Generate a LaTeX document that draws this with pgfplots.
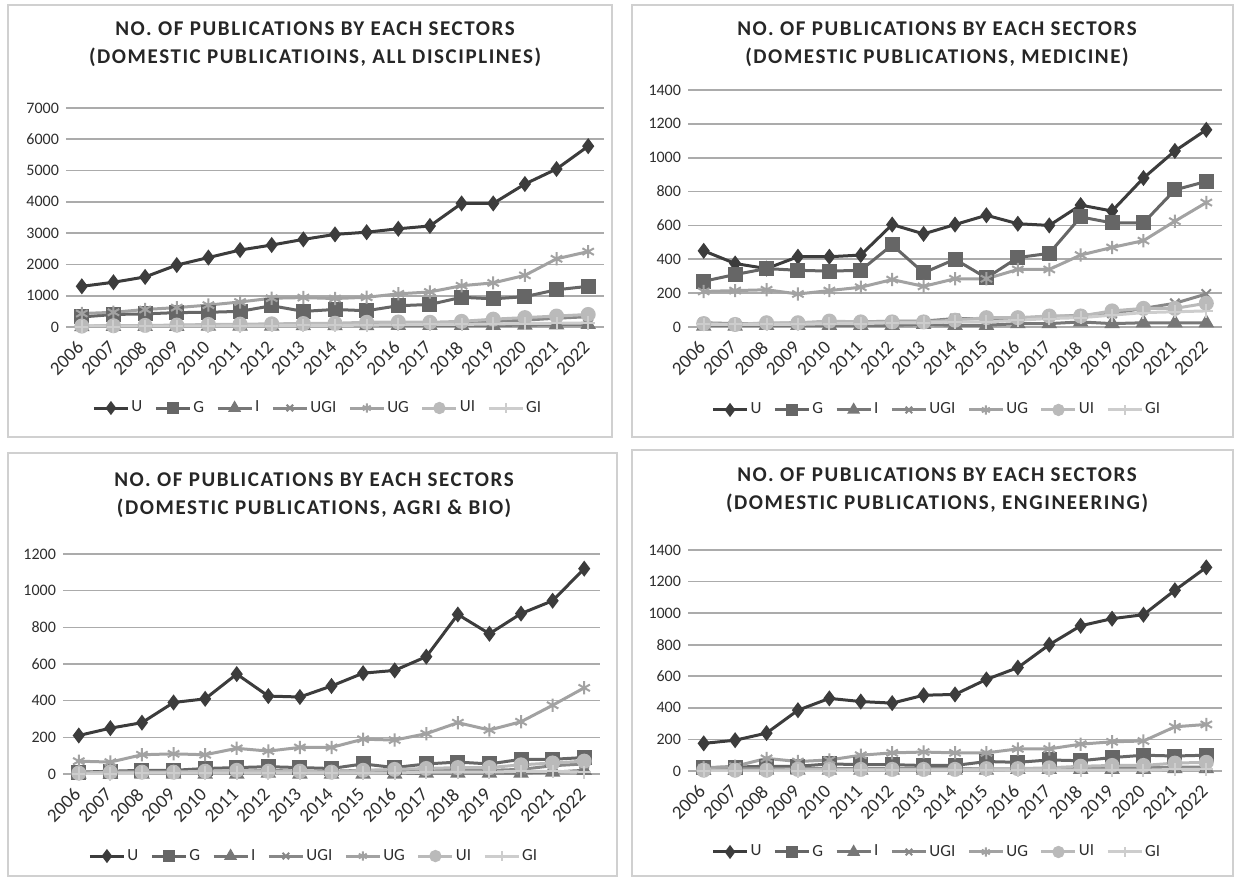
\documentclass[border=0pt]{standalone}
\usepackage{fontspec}
\setmainfont{Carlito}
\newfontfamily\titlefont[LetterSpace=7.5]{Carlito}
\usepackage{pgfplots}
\usepackage{pgfplotstable}
\pgfplotsset{compat=1.18}

\definecolor{cU}{HTML}{3C3C3C}
\definecolor{cG}{HTML}{666666}
\definecolor{cI}{HTML}{777777}
\definecolor{cUGI}{HTML}{888888}
\definecolor{cUG}{HTML}{A2A2A2}
\definecolor{cUI}{HTML}{BABABA}
\definecolor{cGI}{HTML}{CDCDCD}
\definecolor{gridc}{HTML}{ABABAB}
\definecolor{framec}{HTML}{D0D0D0}
\definecolor{txt}{HTML}{2E2E2E}

% all disciplines
\pgfplotstableread{
year U G I UGI UG UI GI
2006 1300 320 10 20 430 30 10
2007 1430 400 20 30 470 40 15
2008 1600 420 20 40 560 50 20
2009 1980 460 20 50 620 60 25
2010 2220 470 30 60 700 80 30
2011 2460 500 30 70 800 90 35
2012 2620 680 30 80 920 100 40
2013 2800 500 40 90 940 110 50
2014 2960 560 40 100 910 120 50
2015 3030 520 40 110 950 150 60
2016 3140 680 50 120 1060 160 70
2017 3230 720 50 130 1120 150 80
2018 3950 950 50 140 1320 180 80
2019 3950 900 50 180 1410 250 100
2020 4570 970 60 220 1650 300 110
2021 5050 1190 70 280 2180 350 120
2022 5780 1300 80 330 2410 400 130
}\tabAll

% medicine
\pgfplotstableread{
year U G I UGI UG UI GI
2006 450 270 5 25 210 20 15
2007 375 310 5 20 215 15 15
2008 345 345 10 20 220 25 15
2009 415 335 10 25 195 25 15
2010 415 330 10 25 215 35 20
2011 425 335 10 30 235 30 20
2012 605 485 10 35 280 30 25
2013 550 320 15 35 240 30 25
2014 605 400 10 50 285 40 30
2015 660 290 10 50 285 55 30
2016 610 410 20 50 340 55 40
2017 600 435 20 60 340 65 50
2018 720 650 30 70 425 65 55
2019 685 615 20 80 470 95 70
2020 880 615 25 110 510 110 85
2021 1040 810 25 140 625 110 90
2022 1165 860 25 195 735 140 95
}\tabMed

% agri and bio
\pgfplotstableread{
year U G I UGI UG UI GI
2006 210 10 0 5 70 5 0
2007 250 15 0 10 65 10 0
2008 280 20 0 10 105 10 5
2009 390 20 0 10 110 10 5
2010 410 30 0 15 105 15 5
2011 545 35 0 15 140 20 5
2012 425 40 5 20 125 15 5
2013 420 35 0 15 145 15 5
2014 480 30 0 15 145 10 5
2015 550 55 0 20 190 20 5
2016 565 35 0 20 185 25 5
2017 640 55 5 20 220 30 10
2018 870 65 5 20 280 35 10
2019 765 55 5 20 240 35 10
2020 875 80 5 25 285 50 15
2021 945 80 10 45 375 60 15
2022 1120 90 20 55 470 70 10
}\tabAgri

% engineering
\pgfplotstableread{
year U G I UGI UG UI GI
2006 175 20 5 15 20 5 0
2007 195 25 5 15 30 5 0
2008 240 30 5 15 80 5 0
2009 385 30 5 15 60 10 0
2010 460 45 5 15 70 10 0
2011 440 40 5 15 100 10 5
2012 430 40 5 15 115 10 5
2013 480 35 5 15 120 10 5
2014 485 35 5 15 115 10 5
2015 580 60 5 15 115 15 5
2016 655 55 10 15 140 15 5
2017 800 70 10 15 140 20 5
2018 920 65 10 20 170 30 5
2019 965 85 10 20 185 35 5
2020 990 100 10 20 190 35 5
2021 1145 95 15 25 280 50 10
2022 1290 100 15 25 295 55 10
}\tabEng

\pgfplotsset{
  panel/.style={
    scale only axis,
    anchor=south west,
    xmin=2005.5, xmax=2022.5,
    ymin=0,
    xtick={2006,...,2022},
    axis line style={draw=none},
    major tick length=0pt,
    ymajorgrids,
    grid style={gridc, line width=0.8pt},
    y tick label style={font=\fontsize{8}{9}\selectfont, text=txt},
    x tick label style={font=\fontsize{9.5}{10}\selectfont, text=txt,
      yshift=-8pt, rotate=45, anchor=east, inner sep=1pt},
    scaled y ticks=false,
    /pgf/number format/1000 sep={},
    /pgf/number format/assume math mode=true,
    legend columns=7,
    legend image code/.code={%
      \draw[mark repeat=2, mark phase=2, mark size=2.3pt] plot coordinates {(0pt,0pt) (8.5pt,0pt) (17pt,0pt)};},
    legend style={draw=none, fill=none, font=\fontsize{8.5}{9}\selectfont, text=txt,
      nodes={inner xsep=1pt},
      /tikz/every even column/.append style={column sep=5pt}},
    every axis plot/.append style={line width=1.5pt},
  },
  sU/.style={cU, mark=diamond*, mark size=2.8pt, mark options={solid, fill=cU}},
  sG/.style={cG, mark=square*, mark size=3pt, mark options={solid, fill=cG}},
  sI/.style={cI, mark=triangle*, mark size=3pt, mark options={solid, fill=cI}},
  sUGI/.style={cUGI, mark=x, mark size=3.3pt, mark options={solid, line width=1pt}},
  sUG/.style={cUG, mark=asterisk, mark size=3.3pt, mark options={solid, line width=1pt}},
  sUI/.style={cUI, mark=*, mark size=3pt, mark options={solid, fill=cUI}},
  sGI/.style={cGI, mark=+, mark size=3.3pt, mark options={solid, line width=1pt}},
}

\newcommand{\series}[1]{%
  \addplot[sU] table[x=year, y=U] {#1};
  \addplot[sG] table[x=year, y=G] {#1};
  \addplot[sI] table[x=year, y=I] {#1};
  \addplot[sUGI] table[x=year, y=UGI] {#1};
  \addplot[sUG] table[x=year, y=UG] {#1};
  \addplot[sUI] table[x=year, y=UI] {#1};
  \addplot[sGI] table[x=year, y=GI] {#1};
  \legend{U,G,I,UGI,UG,UI,GI}
}

\begin{document}
\begin{tikzpicture}[x=1pt, y=1pt]
\useasboundingbox (0,0) rectangle (617.5,439);

% panel frames
\draw[framec, line width=0.8pt] (4,220.5) rectangle (306,436.5);
\draw[framec, line width=0.8pt] (316,220.5) rectangle (616.5,436.5);
\draw[framec, line width=0.8pt] (4,1) rectangle (308.5,212.5);
\draw[framec, line width=0.8pt] (316,1) rectangle (616.5,214);

\tikzset{ttl/.style={align=center, text=black!85, font=\titlefont\bfseries\fontsize{10.5}{14}\selectfont}}
\node[ttl] at (157.5,417) {NO. OF PUBLICATIONS BY EACH SECTORS\\(DOMESTIC PUBLICATIOINS, ALL DISCIPLINES)};
\node[ttl] at (468.5,416.75) {NO. OF PUBLICATIONS BY EACH SECTORS\\(DOMESTIC PUBLICATIONS, MEDICINE)};
\node[ttl] at (157,191.5) {NO. OF PUBLICATIONS BY EACH SECTORS\\(DOMESTIC PUBLICATIONS, AGRI \& BIO)};
\node[ttl] at (468.5,193.75) {NO. OF PUBLICATIONS BY EACH SECTORS\\(DOMESTIC PUBLICATIONS, ENGINEERING)};

\begin{axis}[panel, at={(33pt,275.5pt)}, width=269pt, height=109.5pt,
  ymax=7000, ytick={0,1000,...,7000},
  legend style={at={(0.468,-0.37)}, anchor=center}]
\series{\tabAll}
\end{axis}

\begin{axis}[panel, at={(344pt,275.5pt)}, width=267pt, height=118.5pt,
  ymax=1400, ytick={0,200,...,1400},
  legend style={at={(0.466,-0.35)}, anchor=center}]
\series{\tabMed}
\end{axis}

\begin{axis}[panel, at={(31.5pt,52pt)}, width=268.5pt, height=110pt,
  ymax=1200, ytick={0,200,...,1200},
  legend style={at={(0.467,-0.373)}, anchor=center}]
\series{\tabAgri}
\end{axis}

\begin{axis}[panel, at={(344pt,53.5pt)}, width=267pt, height=110.5pt,
  ymax=1400, ytick={0,200,...,1400},
  legend style={at={(0.466,-0.3665)}, anchor=center}]
\series{\tabEng}
\end{axis}
\end{tikzpicture}
\end{document}
